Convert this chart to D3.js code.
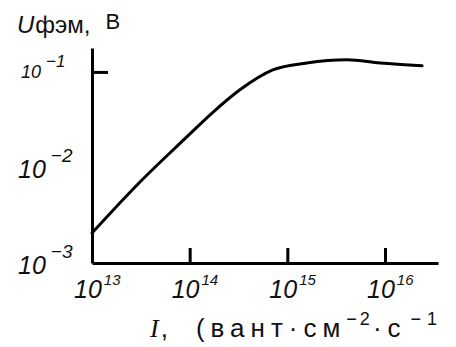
<!DOCTYPE html>
<html lang="ru">
<head>
    <meta charset="UTF-8">
    <title>U фэм vs I</title>
    <style>
        body { margin: 0; background: #fff; }
        svg { display: block; }
        text { font-family: "Liberation Sans", Arial, sans-serif; fill: #111; }
        .tick-lbl { font-style: italic; }
        .axis path, .axis line { stroke: #000; stroke-width: 3; }
        .curve { fill: none; stroke: #000; stroke-width: 3; stroke-linecap: round; }
    </style>
</head>
<body>
    <svg width="456" height="347"></svg>
    <script src="https://cdn.jsdelivr.net/npm/d3@7"></script>
    <script>
        // (I in quanta/cm2/s, U in volts)
        const intensity = [1.0e13, 3.1e13, 8.9e13, 1.74e14, 3.27e14, 7.1e14, 1.58e15, 4.07e15, 8.9e15, 2.4e16];
        const voltage = [2.06e-3, 7.05e-3, 0.0199, 0.038, 0.065, 0.105, 0.124, 0.134, 0.124, 0.116];

        const xTicks = [1e13, 1e14, 1e15, 1e16];
        const xTickExp = ["13", "14", "15", "16"];
        const yTicks = [1e-1, 1e-2, 1e-3];
        const yTickExp = ["−1", "−2", "−3"];

        const svg = d3.select("svg");

        const x = d3.scaleLog()
            .domain([1e13, 3.49e16])
            .range([92, 438]);

        const y = d3.scaleLog()
            .domain([1e-3, 0.178])
            .range([263, 48]);

        // axes
        svg.append("g")
            .attr("class", "axis")
            .attr("transform", "translate(0,263)")
            .call(d3.axisBottom(x).tickValues(xTicks.slice(1)).tickSizeInner(-15).tickSizeOuter(0).tickFormat(""));

        svg.append("g")
            .attr("class", "axis")
            .attr("transform", "translate(92,0)")
            .call(d3.axisLeft(y).tickValues([1e-1]).tickSizeInner(-16).tickSizeOuter(0).tickFormat(""));

        // curve
        const line = d3.line()
            .x(d => x(d[0]))
            .y(d => y(d[1]))
            .curve(d3.curveMonotoneX);

        svg.append("path")
            .attr("class", "curve")
            .attr("d", line(intensity.map((v, i) => [v, voltage[i]])));

        // x tick labels
        xTicks.forEach((t, i) => {
            const lbl = svg.append("text")
                .attr("class", "tick-lbl")
                .attr("x", x(t) - 18)
                .attr("y", 298);
            lbl.append("tspan").attr("font-size", 25).text("10");
            lbl.append("tspan").attr("font-size", 15).attr("dy", -13).attr("dx", 2).text(xTickExp[i]);
        });

        // y tick labels
        yTicks.forEach((t, i) => {
            const big = i === 0 ? 18 : 25;
            const lbl = svg.append("text")
                .attr("class", "tick-lbl")
                .attr("x", i === 0 ? 21 : 18)
                .attr("y", y(t) + (i === 0 ? 6 : 11));
            lbl.append("tspan").attr("font-size", big).text("10");
            lbl.append("tspan").attr("font-size", i === 0 ? 17 : 19).attr("dy", i === 0 ? -11 : -16).attr("dx", 5).text(yTickExp[i]);
        });

        // y axis title
        const yTitle = svg.append("text").attr("x", 17).attr("y", 33).attr("font-size", 24);
        yTitle.append("tspan").attr("font-style", "italic").text("U");
        yTitle.append("tspan").attr("dx", 1).attr("font-size", 24).text("фэм");
        yTitle.append("tspan").text(",");
        yTitle.append("tspan").attr("dx", 15).attr("dy", -4).attr("font-size", 22).text("В");

        // x axis title
        const xTitle = svg.append("text")
            .attr("x", 150).attr("y", 337)
            .attr("font-size", 26)
            .attr("font-family", "DejaVu Sans")
            .attr("letter-spacing", 6);
        xTitle.append("tspan").attr("font-style", "italic").attr("font-family", "Liberation Serif").attr("letter-spacing", 2).text("I");
        xTitle.append("tspan").attr("letter-spacing", 0).text(",");
        xTitle.append("tspan").attr("dx", 28).text("(вант·см");
        xTitle.append("tspan").attr("dy", -12).attr("font-size", 18).attr("letter-spacing", 3).text("−2");
        xTitle.append("tspan").attr("dy", 12).text("·с");
        xTitle.append("tspan").attr("dy", -12).attr("dx", 4).attr("font-size", 18).attr("letter-spacing", 6).text("−1");
    </script>
</body>
</html>
